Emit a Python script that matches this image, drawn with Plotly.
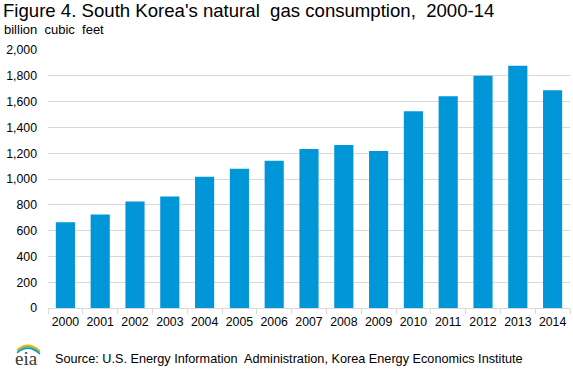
import plotly.graph_objects as go

years = ["2000", "2001", "2002", "2003", "2004", "2005", "2006", "2007",
         "2008", "2009", "2010", "2011", "2012", "2013", "2014"]
consumption = [664, 725, 826, 864, 1018, 1080, 1142, 1233,
               1264, 1218, 1525, 1641, 1800, 1877, 1688]
y_ticks = [0, 200, 400, 600, 800, 1000, 1200, 1400, 1600, 1800, 2000]

W, H = 573, 369
L, R, T, B = 48, 3, 50, 61
pw, ph = W - L - R, H - T - B

def px(x):
    return (x - L) / pw

def py(y):
    return (H - B - y) / ph

fig = go.Figure(go.Bar(x=years, y=consumption, marker_color="#0096D7",
                       marker_line_width=0, width=0.55))

font = "Liberation Sans, Arial, sans-serif"
fig.update_layout(
    width=W, height=H,
    margin=dict(l=L, r=R, t=T, b=B, autoexpand=False),
    plot_bgcolor="white", paper_bgcolor="white",
    showlegend=False,
    bargap=0.45,
    font=dict(family=font, size=12, color="#000000"),
)
fig.update_xaxes(
    type="category", showgrid=False, showline=True, linecolor="#D9D9D9",
    linewidth=1, ticks="outside", tickson="boundaries", ticklen=5,
    tickcolor="#D9D9D9", tickangle=0, automargin=False, ticklabelstandoff=2,
    tickfont=dict(size=12.3, family=font, color="#000"),
)
fig.update_yaxes(
    range=[0, 2000], tickvals=y_ticks, tickformat=",", showgrid=True,
    gridcolor="#D9D9D9", gridwidth=1, zeroline=False, showline=False,
    ticks="", ticklabelstandoff=10, automargin=False,
    tickfont=dict(size=12.3, family=font, color="#000"),
)

annotations = [
    dict(text="Figure 4. South Korea's natural  gas consumption,  2000-14",
         x=px(1), y=py(-2), xanchor="left", yanchor="top",
         font=dict(size=18.6, family=font, color="#000")),
    dict(text="billion  cubic  feet", x=px(2), y=py(20), xanchor="left", yanchor="top",
         font=dict(size=13, family=font, color="#000")),
    dict(text="Source: U.S. Energy Information  Administration, Korea Energy Economics Institute",
         x=px(53), y=py(359), xanchor="left", yanchor="middle",
         font=dict(size=12.7, family=font, color="#000")),
    dict(text="eia", x=px(13), y=py(358), xanchor="left", yanchor="middle",
         font=dict(size=19, family="Liberation Serif, DejaVu Serif, serif", color="#3a3a3a")),
]
for a in annotations:
    a.update(xref="paper", yref="paper", showarrow=False)
fig.update_layout(annotations=annotations)

shapes = []
for dy, col in [(0, "#F2B705"), (1.5, "#7CB342"), (3, "#0096D7")]:
    x0, y0 = px(17), py(350 + dy)
    cx, cy = px(28), py(340 + dy)
    x1, y1 = px(40), py(351 + dy)
    shapes.append(dict(type="path", xref="paper", yref="paper",
                       path=f"M {x0},{y0} Q {cx},{cy} {x1},{y1}",
                       line=dict(color=col, width=1.3)))
fig.update_layout(shapes=shapes)

fig.write_html("out.html", config={"displayModeBar": False},
               post_script="document.body.style.margin='0';")
